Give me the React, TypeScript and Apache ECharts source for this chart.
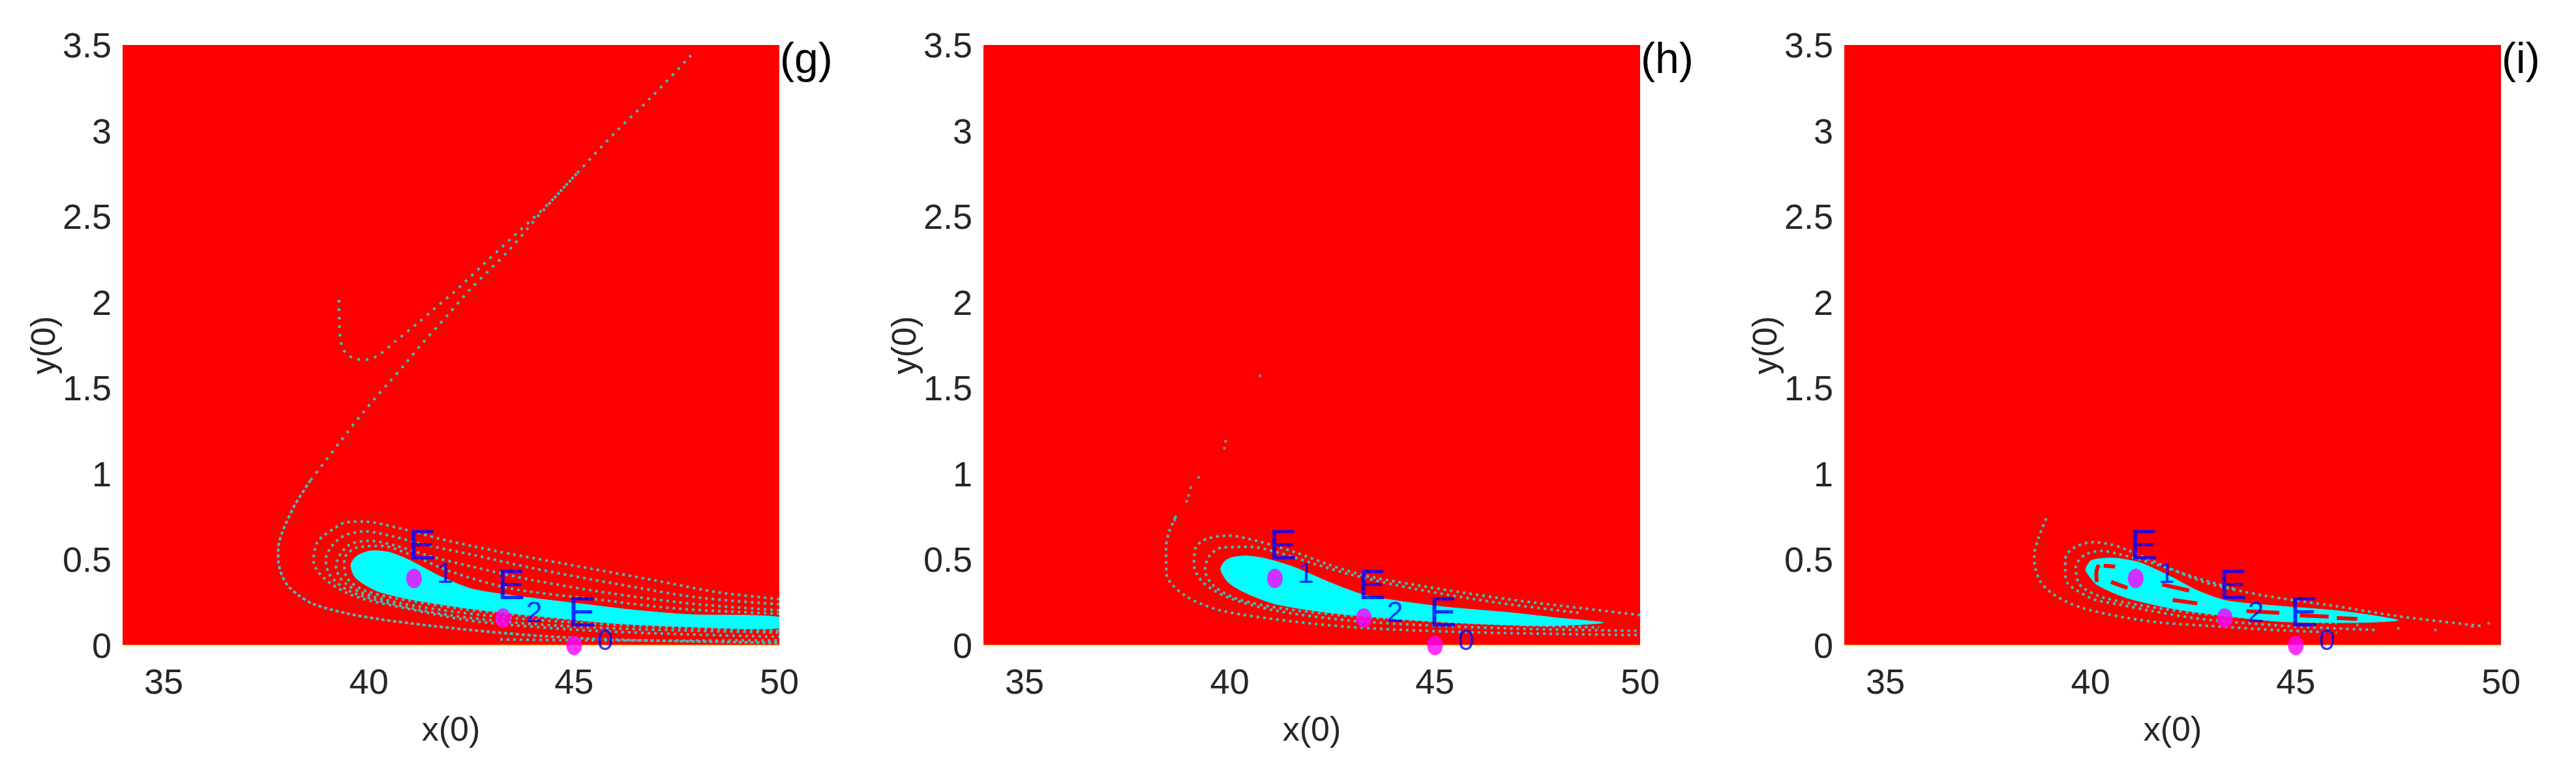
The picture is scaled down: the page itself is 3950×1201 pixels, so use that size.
import React, { useEffect, useRef } from "react";
import * as echarts from "echarts";

// ---------- data ----------
const X_MIN = 34;
const X_MAX = 50;
const Y_MIN = 0;
const Y_MAX = 3.5;
const X_TICKS = [35, 40, 45, 50];
const Y_TICKS = [0, 0.5, 1, 1.5, 2, 2.5, 3, 3.5];
const PANEL_TAGS = ["(g)", "(h)", "(i)"];
const X_NAME = "x(0)";
const Y_NAME = "y(0)";

// equilibria
const EQ_X = [41.1, 43.27, 45.0];
const EQ_Y = [0.39, 0.16, 0.0];
const EQ_SUB = ["1", "2", "0"];

// panel (g): main cyan basin
const G_BLOB = [
  [39.56, 0.469], [39.7, 0.52], [40.03, 0.551], [40.46, 0.545], [40.9, 0.507],
  [41.4, 0.445], [41.76, 0.4], [42.5, 0.33], [43.49, 0.291], [45.22, 0.241],
  [46.5, 0.205], [47.8, 0.18], [50, 0.165], [50, 0.101], [47.8, 0.108],
  [46.09, 0.127], [44.36, 0.165], [42.63, 0.209], [41.06, 0.266], [40.2, 0.317],
  [39.68, 0.393],
];
// panel (g): long filaments
const G_STRAND_UPPER = [
  [47.85, 3.44], [46.9, 3.2], [46.04, 3.0], [45.1, 2.76], [44.19, 2.52],
  [43.4, 2.3], [42.5, 2.084], [41.92, 1.926], [41.28, 1.755], [40.88, 1.64],
  [40.49, 1.533], [39.85, 1.356], [39.27, 1.178], [38.58, 0.963],
];
const G_STRAND_LOWER = [
  [38.58, 0.963], [38.2, 0.82], [37.89, 0.659], [37.79, 0.56], [37.8, 0.48],
  [37.88, 0.41], [38.02, 0.35], [38.3, 0.29], [38.65, 0.241], [39.4, 0.19],
  [40.23, 0.154], [41.5, 0.115], [42.87, 0.081], [44.2, 0.055], [45.5, 0.038],
  [47.5, 0.025], [50, 0.015],
];
const G_STRAND_HOOK = [
  [39.27, 2.014], [39.28, 1.9], [39.3, 1.8], [39.38, 1.723], [39.64, 1.672],
  [39.96, 1.666], [40.27, 1.698], [40.65, 1.774], [41.17, 1.875], [41.6, 1.964],
  [42.07, 2.059], [42.7, 2.2], [43.5, 2.38], [44.4, 2.58], [45.1, 2.76],
];
const G_RING_1 = [
  [50, 0.27], [48.5, 0.31], [46.95, 0.38], [45.22, 0.456], [43.49, 0.532],
  [42.5, 0.58], [41.76, 0.62], [40.8, 0.68], [39.86, 0.722], [39.4, 0.715],
  [39.17, 0.684], [38.9, 0.64], [38.73, 0.596], [38.65, 0.494], [38.9, 0.393],
  [39.6, 0.292], [40.9, 0.216], [42.63, 0.14], [45.22, 0.089], [47.8, 0.064],
  [50, 0.05],
];
const G_RING_2 = [
  [50, 0.24], [48, 0.28], [46, 0.36], [44, 0.45], [42.5, 0.53], [41.5, 0.58],
  [40.5, 0.64], [39.9, 0.665], [39.4, 0.64], [39.1, 0.58], [38.95, 0.5],
  [39.05, 0.41], [39.5, 0.32], [40.5, 0.245], [42, 0.175], [44, 0.125],
  [46.5, 0.095], [50, 0.075],
];
const G_RING_3 = [
  [50, 0.205], [48, 0.24], [46, 0.3], [44, 0.38], [42.5, 0.46], [41.5, 0.52],
  [40.6, 0.585], [40.0, 0.61], [39.55, 0.59], [39.3, 0.53], [39.2, 0.46],
  [39.35, 0.38], [39.8, 0.31], [40.8, 0.245], [42.3, 0.19], [44, 0.15],
  [46.5, 0.115], [50, 0.085],
];
const G_RING_4 = [
  [50, 0.185], [47.5, 0.215], [45.5, 0.27], [43.5, 0.33], [42, 0.43],
  [41, 0.53], [40.3, 0.58], [39.7, 0.57], [39.4, 0.5], [39.45, 0.4],
  [39.9, 0.32], [41, 0.26], [42.7, 0.2], [44.5, 0.16], [47, 0.125], [50, 0.115],
];
const G_BOTTOM_DASH = [[43.2, 0.035], [45, 0.03], [47, 0.028], [50, 0.03]];

// panel (h)
const H_BLOB = [
  [39.78, 0.443], [39.88, 0.49], [40.06, 0.513], [40.41, 0.522], [40.86, 0.507],
  [41.57, 0.456], [42.44, 0.367], [43.33, 0.291], [45.1, 0.228], [46.88, 0.19],
  [48.0, 0.16], [49.1, 0.133], [47.76, 0.114], [45.99, 0.127], [44.22, 0.152],
  [42.44, 0.19], [41.12, 0.241], [40.41, 0.304], [39.97, 0.367],
];
const H_RING_1 = [
  [38.68, 0.748], [38.52, 0.66], [38.45, 0.57], [38.46, 0.418], [38.9, 0.292],
  [39.8, 0.203], [41.57, 0.139], [43.33, 0.101], [45.99, 0.076], [48.5, 0.065],
  [50, 0.06],
];
const H_RING_2 = [
  [50, 0.177], [48.65, 0.215], [46.88, 0.266], [45.1, 0.33], [43.33, 0.405],
  [42.44, 0.469], [41.57, 0.545], [40.68, 0.608], [39.97, 0.64], [39.44, 0.621],
  [39.17, 0.57], [39.13, 0.469], [39.35, 0.367], [39.97, 0.279], [41.12, 0.203],
  [42.89, 0.146], [45.1, 0.114], [47.5, 0.095], [50, 0.085],
];
const H_RING_3 = [
  [48.5, 0.19], [46.5, 0.25], [44.5, 0.33], [43, 0.41], [42, 0.48], [41.2, 0.54],
  [40.5, 0.575], [39.8, 0.57], [39.5, 0.52], [39.4, 0.44], [39.6, 0.35],
  [40.2, 0.27], [41.3, 0.215], [43, 0.17], [45, 0.14], [47, 0.12], [49, 0.105],
];
const H_DOTS = [
  [40.74, 1.571], [39.9, 1.19], [39.87, 1.15], [39.24, 0.98], [39.05, 0.92],
  [39.0, 0.874], [38.95, 0.84], [38.68, 0.75], [38.66, 0.73],
];

// panel (i)
const I_BLOB = [
  [39.88, 0.443], [40.01, 0.494], [40.38, 0.509], [40.68, 0.507], [41.21, 0.482],
  [41.92, 0.405], [42.63, 0.317], [43.33, 0.26], [44.67, 0.228], [45.99, 0.203],
  [47.0, 0.17], [47.49, 0.146], [46.43, 0.133], [44.67, 0.139], [43.33, 0.171],
  [42.0, 0.215], [40.86, 0.279], [40.15, 0.355], [39.93, 0.418],
];
const I_HOLES = [
  [[40.32, 0.465], [40.6, 0.46]],
  [[40.2, 0.47], [40.14, 0.42], [40.15, 0.37]],
  [[40.5, 0.37], [40.9, 0.335]],
  [[41.75, 0.355], [42.4, 0.32]],
  [[42.0, 0.265], [42.6, 0.245]],
  [[43.8, 0.2], [44.6, 0.19]],
  [[45.1, 0.175], [45.8, 0.168]],
  [[46.0, 0.16], [46.5, 0.155]],
];
const I_RING_1 = [
  [38.92, 0.741], [38.73, 0.625], [38.63, 0.526], [38.65, 0.456], [38.79, 0.367],
  [39.06, 0.304], [39.43, 0.253], [39.85, 0.215], [40.38, 0.184], [40.9, 0.16],
  [41.7, 0.133], [42.89, 0.114], [44.5, 0.09], [46, 0.075],
];
const I_RING_2 = [
  [49.5, 0.114], [47.5, 0.17], [46, 0.228], [44.22, 0.291], [42.8, 0.367],
  [41.74, 0.469], [40.86, 0.56], [40.49, 0.589], [40.06, 0.602], [39.64, 0.576],
  [39.4, 0.52], [39.38, 0.443], [39.43, 0.367], [39.69, 0.317], [40.11, 0.266],
  [40.65, 0.241], [41.44, 0.203], [42.5, 0.16], [43.33, 0.139], [45, 0.11],
  [47, 0.09],
];
const I_RING_3 = [
  [43.5, 0.33], [42.5, 0.4], [41.5, 0.48], [40.7, 0.532], [40.27, 0.551],
  [39.85, 0.526], [39.64, 0.456], [39.7, 0.37], [39.85, 0.33], [40.3, 0.28],
  [41.2, 0.235], [42.5, 0.19], [44, 0.16], [46, 0.13],
];
const I_TAIL_DOTS = [[46.5, 0.12], [47.5, 0.1], [48.4, 0.09], [49.3, 0.11], [49.7, 0.13]];

const PANEL_BLOBS = [G_BLOB, H_BLOB, I_BLOB];
const PANEL_RINGS = [
  [G_RING_1, G_RING_2, G_RING_3, G_RING_4, G_BOTTOM_DASH],
  [H_RING_1, H_RING_2, H_RING_3],
  [I_RING_1, I_RING_2, I_RING_3],
];
const PANEL_STRANDS = [[G_STRAND_UPPER, G_STRAND_HOOK], [], []];
const PANEL_DENSE_STRANDS = [[G_STRAND_LOWER], [], []];
const PANEL_DOTS = [[], H_DOTS, I_TAIL_DOTS];
const PANEL_HOLES = [[], [], I_HOLES];

// ---------- styling ----------
const FONT = "'Liberation Sans Narrow', 'Liberation Sans', Arial, sans-serif";
const RED = "#ff0000";
const CYAN = "#00ffff";
const SPECKLE = "#45bcbc";
const GRID_LEFTS = [188, 1508, 2828];
const GRID_TOP = 69;
const GRID_W = 1007;
const GRID_H = 921;

function polygonSeries(points: number[][], idx: number, color: string, z: number) {
  return {
    type: "custom",
    coordinateSystem: "cartesian2d",
    xAxisIndex: idx,
    yAxisIndex: idx,
    data: points,
    encode: { x: 0, y: 1 },
    silent: true,
    clip: true,
    z,
    renderItem: (params: any, api: any) => {
      if (params.dataIndex !== 0) return null;
      const pts = points.map((p) => api.coord(p));
      return {
        type: "polygon",
        shape: { points: pts, smooth: 0.25 },
        style: { fill: color, stroke: color, lineWidth: 1 },
      };
    },
  };
}

function lineSeries(points: number[][], idx: number, style: any, z: number, smooth = 0.3) {
  return {
    type: "line",
    xAxisIndex: idx,
    yAxisIndex: idx,
    data: points,
    showSymbol: false,
    symbol: "none",
    smooth,
    silent: true,
    z,
    lineStyle: style,
  };
}

export default function App() {
  const ref = useRef<HTMLDivElement>(null);

  useEffect(() => {
    if (!ref.current) return;
    const chart = echarts.init(ref.current, undefined, { renderer: "svg" });

    const grids: any[] = [];
    const xAxes: any[] = [];
    const yAxes: any[] = [];
    const titles: any[] = [];
    const series: any[] = [];

    for (let p = 0; p < 3; p++) {
      grids.push({
        left: GRID_LEFTS[p],
        top: GRID_TOP,
        width: GRID_W,
        height: GRID_H,
        show: true,
        backgroundColor: RED,
        borderWidth: 0,
        containLabel: false,
      });
      xAxes.push({
        type: "value",
        gridIndex: p,
        min: X_MIN,
        max: X_MAX,
        name: X_NAME,
        nameLocation: "middle",
        nameGap: 102,
        nameTextStyle: { fontSize: 52, color: "#262626", fontFamily: FONT },
        axisLine: { show: false },
        axisTick: { show: false },
        splitLine: { show: false },
        axisLabel: {
          customValues: X_TICKS,
          fontSize: 54,
          color: "#262626",
          fontFamily: FONT,
          margin: 28,
        },
      });
      yAxes.push({
        type: "value",
        gridIndex: p,
        min: Y_MIN,
        max: Y_MAX,
        name: Y_NAME,
        nameLocation: "middle",
        nameGap: 92,
        nameTextStyle: { fontSize: 52, color: "#262626", fontFamily: FONT },
        axisLine: { show: false },
        axisTick: { show: false },
        splitLine: { show: false },
        axisLabel: {
          customValues: Y_TICKS,
          fontSize: 54,
          color: "#262626",
          fontFamily: FONT,
          margin: 17,
        },
      });
      titles.push({
        text: PANEL_TAGS[p],
        left: GRID_LEFTS[p] + GRID_W - 4,
        top: 51,
        textStyle: { fontSize: 66, fontWeight: "normal", color: "#000", fontFamily: FONT },
      });

      // speckled rings
      PANEL_RINGS[p].forEach((ring) => {
        series.push(lineSeries(ring, p, { color: SPECKLE, width: 4, type: [4, 6] }, 2));
      });
      PANEL_STRANDS[p].forEach((s) => {
        series.push(lineSeries(s, p, { color: SPECKLE, width: 4, type: [4, 9] }, 2));
      });
      PANEL_DENSE_STRANDS[p].forEach((s) => {
        series.push(lineSeries(s, p, { color: SPECKLE, width: 4, type: [5, 4] }, 2));
      });
      if (PANEL_DOTS[p].length) {
        series.push({
          type: "scatter",
          xAxisIndex: p,
          yAxisIndex: p,
          data: PANEL_DOTS[p],
          symbol: "rect",
          symbolSize: 4,
          itemStyle: { color: SPECKLE },
          silent: true,
          z: 2,
        });
      }
      // main basin
      series.push(polygonSeries(PANEL_BLOBS[p], p, CYAN, 3));
      PANEL_HOLES[p].forEach((h) => {
        series.push(lineSeries(h, p, { color: RED, width: 6 }, 4, 0.4));
      });
      // yellow base row
      series.push({
        type: "line",
        xAxisIndex: p,
        yAxisIndex: p,
        data: [[X_MIN, Y_MIN], [X_MAX, Y_MIN]],
        showSymbol: false,
        symbol: "none",
        clip: false,
        silent: true,
        z: 5,
        lineStyle: { color: "#ffff00", width: 2 },
      });
      const eqData = EQ_X.map((x, i) => [x, EQ_Y[i], EQ_SUB[i]]);
      // equilibrium markers
      series.push({
        type: "scatter",
        xAxisIndex: p,
        yAxisIndex: p,
        data: eqData,
        symbol: "circle",
        symbolSize: [24, 30],
        clip: false,
        itemStyle: { color: "#ff00ff" },
        silent: true,
        z: 6,
      });
      // E labels
      series.push({
        type: "scatter",
        xAxisIndex: p,
        yAxisIndex: p,
        data: eqData,
        symbolSize: 1,
        clip: false,
        itemStyle: { color: "rgba(0,0,0,0)" },
        silent: true,
        z: 7,
        label: {
          show: true,
          position: "inside",
          align: "left",
          verticalAlign: "middle",
          offset: [-9, -51],
          formatter: "E",
          fontSize: 64,
          color: "#0000ff",
          fontFamily: FONT,
        },
      });
      // subscripts
      series.push({
        type: "scatter",
        xAxisIndex: p,
        yAxisIndex: p,
        data: eqData,
        symbolSize: 1,
        clip: false,
        itemStyle: { color: "rgba(0,0,0,0)" },
        silent: true,
        z: 7,
        label: {
          show: true,
          position: "inside",
          align: "left",
          verticalAlign: "middle",
          offset: [35, -9],
          formatter: (prm: any) => String(prm.data[2]),
          fontSize: 45,
          color: "#0000ff",
          fontFamily: FONT,
        },
      });
    }

    chart.setOption({
      animation: false,
      backgroundColor: "#ffffff",
      title: titles,
      grid: grids,
      xAxis: xAxes,
      yAxis: yAxes,
      series,
    });

    return () => chart.dispose();
  }, []);

  return (
    <div
      ref={ref}
      style={{ position: "fixed", left: 0, top: 0, width: 3950, height: 1201, background: "#fff" }}
    />
  );
}
